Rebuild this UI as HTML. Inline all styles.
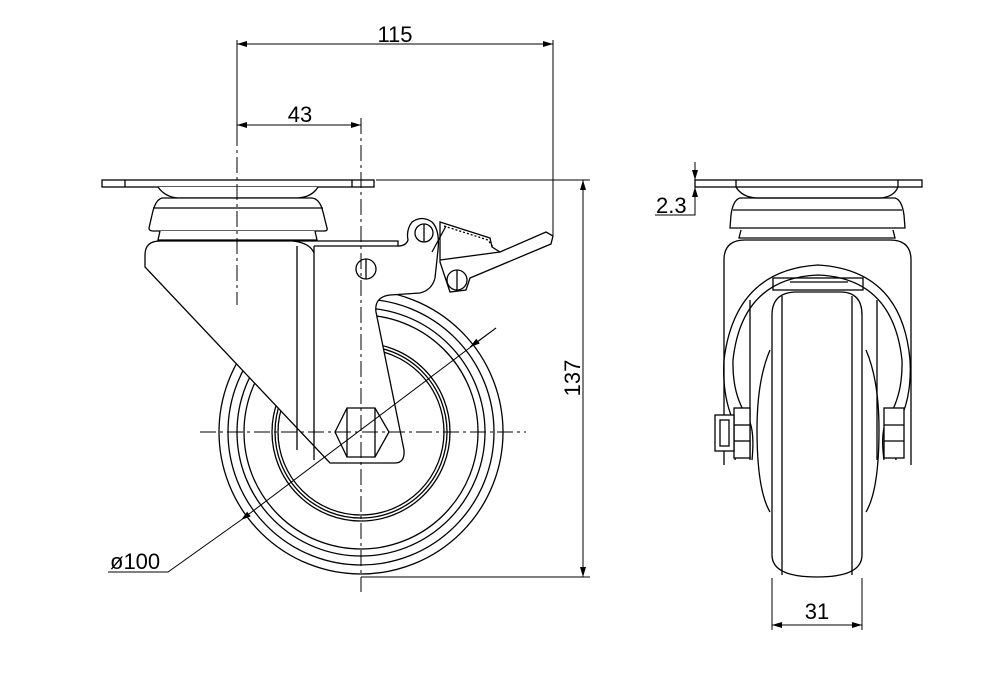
<!DOCTYPE html>
<html><head><meta charset="utf-8"><style>
html,body{margin:0;padding:0;background:#fff;}
svg{display:block;}
text{font-family:"Liberation Sans","DejaVu Sans",sans-serif;font-size:22px;fill:#000;}
</style></head><body>
<svg width="1008" height="696" viewBox="0 0 1008 696" xmlns="http://www.w3.org/2000/svg">
<defs>
<marker id="a" viewBox="0 0 10 6" refX="10" refY="3" markerWidth="10" markerHeight="6" orient="auto-start-reverse" markerUnits="userSpaceOnUse"><path d="M0,0L10,3L0,6z" fill="#000"/></marker>
</defs>
<g fill="none" stroke="#000" stroke-width="1.3">
<!-- FRONT VIEW -->
<circle cx="361" cy="432" r="142"/>
<circle cx="361" cy="432" r="133"/>
<circle cx="361" cy="432" r="124"/>
<circle cx="361" cy="432" r="117"/>
<circle cx="361" cy="432" r="89"/>
<circle cx="361" cy="432" r="86"/>
<circle cx="361" cy="432" r="83"/>
<rect x="102" y="180" width="272" height="7" fill="#fff"/>
<line x1="125" y1="180" x2="125" y2="187"/><line x1="352" y1="180" x2="352" y2="187"/>
<path d="M158,187 Q165,197 178,198 L298,198 Q312,197 318,187" fill="#fff"/>
<path d="M162,198 Q155,200 152,215 L149,228 Q149,231 153,231 L324,231 Q328,231 327,228 L323,212 Q320,199 312,198 Z" fill="#fff"/>
<line x1="153" y1="208" x2="323" y2="208"/>
<path d="M160,231 L158,240 L317,240 L315,231" fill="#fff"/>
<path d="M160,241 Q145,241 145,255 L145,267 L330,463 L395,463 Q405,463 404,450 L376,312 Q374,297 390,295 L420,293 Q432,290 435,278 L438,250 Q440,230 432,222 Q422,215 412,222 Q406,230 408,240 Q406,246 398,246 L398,241 Z" fill="#fff"/>
<line x1="297" y1="246" x2="297" y2="450"/>
<line x1="314" y1="246" x2="314" y2="460"/>
<path d="M293,241 Q310,243 314,253"/>
<line x1="314" y1="246" x2="398" y2="246"/>
<path d="M335,432 L347,408 L375,408 L389,432 L375,457 L347,457 Z" fill="#fff"/>
<line x1="347" y1="408" x2="347" y2="457"/><line x1="375" y1="408" x2="375" y2="457"/>
<circle cx="366" cy="269" r="10" fill="#fff"/><line x1="366" y1="259" x2="366" y2="279"/>
<path d="M440,222 L490,238 L492,247 L500,252 L546,232 L553,236 L551,244 L470,278 L466,290 L450,292 L440,262 Z" fill="#fff"/>
<path d="M444,226 L488,240 L493,247" stroke-dasharray="2 2"/>
<line x1="440" y1="260" x2="500" y2="252"/>
<line x1="446" y1="226" x2="432" y2="252"/>
<circle cx="424" cy="233" r="9" fill="#fff"/><line x1="424" y1="224" x2="424" y2="242"/>
<circle cx="457" cy="280" r="10" fill="#fff"/><line x1="457" y1="270" x2="457" y2="290"/>
<g stroke-width="1" stroke-dasharray="16 4 3 4">
<line x1="361" y1="118" x2="361" y2="592"/>
<line x1="200" y1="432" x2="526" y2="432"/>
<line x1="237" y1="130" x2="237" y2="305"/>
</g>
<line x1="237" y1="40" x2="237" y2="130" stroke-width="1"/>
<line x1="553" y1="40" x2="553" y2="235" stroke-width="1"/>
<line x1="237" y1="44" x2="553" y2="44" stroke-width="1" marker-start="url(#a)" marker-end="url(#a)"/>
<line x1="237" y1="125" x2="361" y2="125" stroke-width="1" marker-start="url(#a)" marker-end="url(#a)"/>
<line x1="376" y1="180" x2="590" y2="180" stroke-width="1"/>
<line x1="361" y1="577" x2="590" y2="577" stroke-width="1"/>
<line x1="583" y1="180" x2="583" y2="577" stroke-width="1" marker-start="url(#a)" marker-end="url(#a)"/>
<line x1="496" y1="328" x2="241" y2="520" stroke-width="1" marker-end="url(#a)"/>
<line x1="496" y1="328" x2="470" y2="347" stroke-width="1" marker-end="url(#a)"/>
<polyline points="241,520 168,572 108,572" stroke-width="1"/>

<!-- SIDE VIEW -->
<rect x="695" y="180" width="227" height="7" fill="#fff"/>
<line x1="736" y1="180" x2="736" y2="187"/><line x1="898" y1="180" x2="898" y2="187"/>
<path d="M736,187 Q742,197 756,198 L880,198 Q894,197 898,187"/>
<path d="M740,198 Q733,200 731,215 L730,228 L905,228 L904,215 Q902,200 895,198 Z"/>
<line x1="733" y1="210" x2="902" y2="210"/>
<path d="M741,230 L739,238 L895,238 L893,230"/>
<path d="M724,465 L724,260 Q724,240 745,240 L890,240 Q911,240 911,260 L911,465"/>
<path d="M770,350 Q757,380 757,430 Q757,490 770,512"/>
<path d="M866,350 Q879,380 879,430 Q879,490 866,512"/>
<line x1="750" y1="300" x2="750" y2="460"/><line x1="877" y1="300" x2="877" y2="460"/>
<path d="M772,315 Q772,293 795,292 L842,292 Q862,293 862,315 L862,555 Q862,577 817,577 Q772,577 772,555 Z" fill="#fff"/>
<line x1="782" y1="296" x2="782" y2="575"/><line x1="852" y1="296" x2="852" y2="575"/>
<rect x="773" y="278" width="90" height="12" fill="#fff"/>
<line x1="790" y1="282" x2="848" y2="282"/>
<path d="M735,460 Q740,430 733,420 Q722,395 724,360 Q735,270 818,265 Q902,270 910,360 Q912,395 900,420 Q893,430 896,460"/>
<path d="M752,460 Q755,430 748,418 Q732,395 733,360 Q742,278 818,275 Q893,278 902,360 Q903,395 888,418 Q880,430 884,460"/>
<rect x="734" y="408" width="16" height="50" fill="#fff"/>
<line x1="734" y1="425" x2="750" y2="425"/><line x1="734" y1="441" x2="750" y2="441"/>
<rect x="715" y="415" width="19" height="36" fill="#fff"/>
<rect x="720" y="420" width="9" height="26"/>
<rect x="884" y="408" width="20" height="50" fill="#fff"/>
<line x1="884" y1="425" x2="904" y2="425"/><line x1="884" y1="441" x2="904" y2="441"/>
<line x1="772" y1="578" x2="772" y2="630" stroke-width="1"/>
<line x1="862" y1="578" x2="862" y2="630" stroke-width="1"/>
<line x1="772" y1="625" x2="862" y2="625" stroke-width="1" marker-start="url(#a)" marker-end="url(#a)"/>
<line x1="695" y1="162" x2="695" y2="180" stroke-width="1" marker-end="url(#a)"/>
<line x1="695" y1="205" x2="695" y2="187" stroke-width="1" marker-end="url(#a)"/>
<polyline points="695,205 695,215 655,215" stroke-width="1"/>
</g>
<text x="395" y="42" text-anchor="middle">115</text>
<text x="300" y="122" text-anchor="middle">43</text>
<text x="110" y="569">ø100</text>
<text x="656" y="213">2.3</text>
<text x="817" y="619" text-anchor="middle">31</text>
<text transform="translate(580,378) rotate(-90)" text-anchor="middle">137</text>
</svg>
</body></html>
